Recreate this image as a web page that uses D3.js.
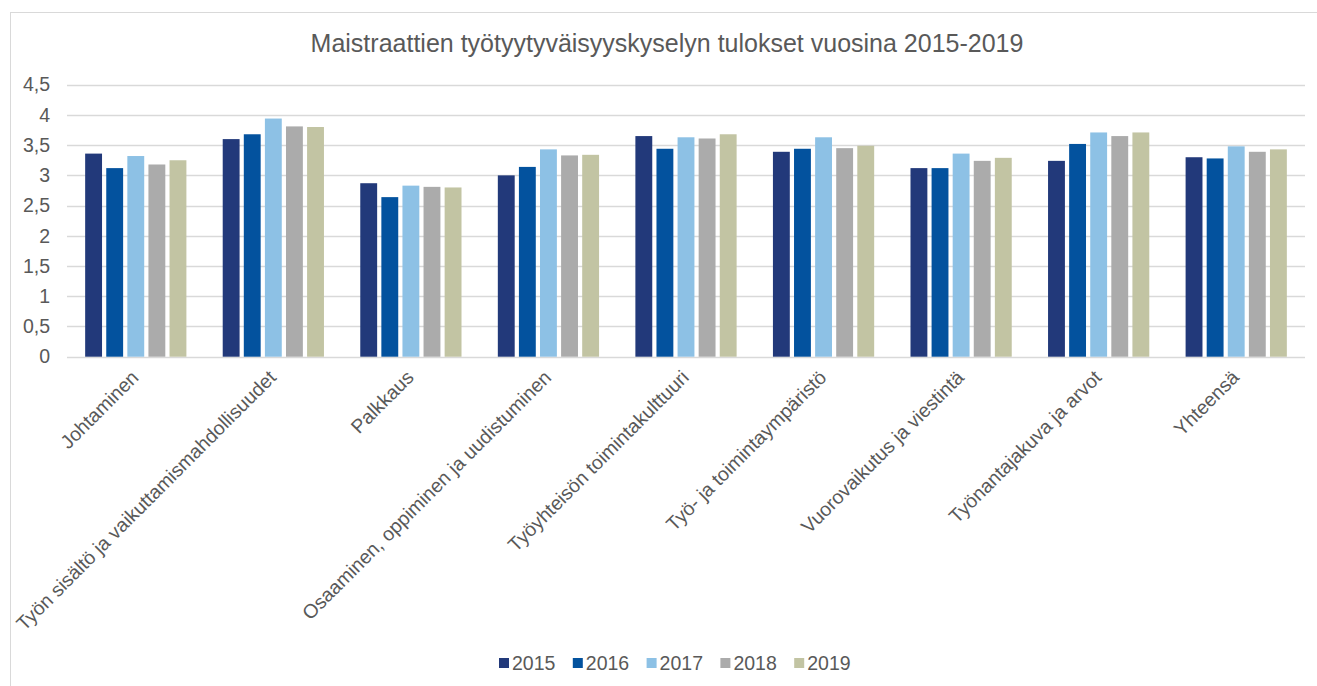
<!DOCTYPE html>
<html>
<head>
<meta charset="utf-8">
<script src="https://cdn.jsdelivr.net/npm/d3@7"></script>
<style>
  html, body { margin: 0; padding: 0; background: #fff; }
  svg { display: block; font-family: "Liberation Sans", Arial, sans-serif; }
</style>
</head>
<body>
<svg id="chart" width="1317" height="686"></svg>
<script>
// Survey dimensions (x axis categories)
const categories = [
  "Johtaminen",
  "Työn sisältö ja vaikuttamismahdollisuudet",
  "Palkkaus",
  "Osaaminen, oppiminen ja uudistuminen",
  "Työyhteisön toimintakulttuuri",
  "Työ- ja toimintaympäristö",
  "Vuorovaikutus ja viestintä",
  "Työnantajakuva ja arvot",
  "Yhteensä"
];

const years = ["2015", "2016", "2017", "2018", "2019"];

// Average scores per year, one value per category
const values2015 = [3.36, 3.60, 2.87, 3.00, 3.65, 3.39, 3.12, 3.24, 3.30];
const values2016 = [3.12, 3.68, 2.64, 3.14, 3.44, 3.44, 3.12, 3.52, 3.28];
const values2017 = [3.32, 3.94, 2.83, 3.43, 3.63, 3.63, 3.36, 3.71, 3.48];
const values2018 = [3.18, 3.81, 2.81, 3.33, 3.61, 3.45, 3.24, 3.65, 3.39];
const values2019 = [3.25, 3.80, 2.80, 3.34, 3.68, 3.49, 3.29, 3.71, 3.43];

const yTicks = [0, 0.5, 1, 1.5, 2, 2.5, 3, 3.5, 4, 4.5];

const title = "Maistraattien työtyytyväisyyskyselyn tulokset vuosina 2015-2019";

const seriesValues = [values2015, values2016, values2017, values2018, values2019];
const colors = ["#22397a", "#03529e", "#8dc1e5", "#ababab", "#c2c4a3"];

const svg = d3.select("#chart");
const W = 1317, H = 686;
const textColor = "#595959";

// chart frame
svg.append("rect")
  .attr("x", 10.5).attr("y", 12.5)
  .attr("width", W).attr("height", H)
  .attr("fill", "#fff").attr("stroke", "#d9d9d9").attr("stroke-width", 1);

const plot = { left: 67, right: 1305, top: 84.7, bottom: 356.7 };

const y = d3.scaleLinear().domain([0, 4.5]).range([plot.bottom, plot.top]);

const x0 = d3.scaleBand()
  .domain(categories)
  .range([plot.left, plot.right])
  .paddingInner(0.264)
  .paddingOuter(0.132);

const x1 = d3.scaleBand()
  .domain(years)
  .range([0, x0.bandwidth()])
  .paddingInner(0.2)
  .paddingOuter(0);

// horizontal gridlines
svg.append("g")
  .selectAll("line")
  .data(yTicks)
  .join("line")
  .attr("x1", plot.left).attr("x2", plot.right)
  .attr("y1", d => Math.round(y(d)) + 0.5)
  .attr("y2", d => Math.round(y(d)) + 0.5)
  .attr("stroke", "#d9d9d9")
  .attr("stroke-width", 1.3);

// y axis labels
const yAxis = d3.axisLeft(y)
  .tickValues(yTicks)
  .tickSize(0)
  .tickPadding(0)
  .tickFormat(d => String(d).replace(".", ","));

svg.append("g")
  .attr("transform", `translate(50,0)`)
  .call(yAxis)
  .call(g => g.select(".domain").remove())
  .call(g => g.selectAll("text")
    .attr("fill", textColor)
    .attr("font-size", 19.5)
    .attr("font-family", "Liberation Sans, Arial, sans-serif"));

// bars
const groups = svg.append("g")
  .selectAll("g")
  .data(categories)
  .join("g")
  .attr("transform", d => `translate(${x0(d)},0)`);

groups.selectAll("rect")
  .data((d, i) => years.map((yr, k) => ({ yr, v: seriesValues[k][i], k })))
  .join("rect")
  .attr("x", d => x1(d.yr))
  .attr("width", x1.bandwidth())
  .attr("y", d => y(d.v))
  .attr("height", d => y(0) - y(d.v))
  .attr("fill", d => colors[d.k]);

// x axis labels (rotated)
const xAxis = d3.axisBottom(x0).tickSize(0).tickPadding(0);
svg.append("g")
  .attr("transform", `translate(0,${plot.bottom})`)
  .call(xAxis)
  .call(g => g.select(".domain").remove())
  .call(g => g.selectAll("text")
    .attr("fill", textColor)
    .attr("font-size", 19.5)
    .attr("font-family", "Liberation Sans, Arial, sans-serif")
    .attr("text-anchor", "end")
    .attr("dy", null)
    .attr("transform", "translate(4,22) rotate(-45)"));

// title
svg.append("text")
  .attr("x", 667).attr("y", 52)
  .attr("text-anchor", "middle")
  .attr("fill", textColor)
  .attr("font-size", 25)
  .text(title);

// legend
const legend = svg.append("g").attr("transform", "translate(499,663)");
const item = legend.selectAll("g")
  .data(years)
  .join("g")
  .attr("transform", (d, i) => `translate(${i * 73.8},0)`);
item.append("rect")
  .attr("x", 0).attr("y", -5)
  .attr("width", 10).attr("height", 10)
  .attr("fill", (d, i) => colors[i]);
item.append("text")
  .attr("x", 13).attr("y", 7)
  .attr("fill", textColor)
  .attr("font-size", 19.5)
  .text(d => d);
</script>
</body>
</html>
